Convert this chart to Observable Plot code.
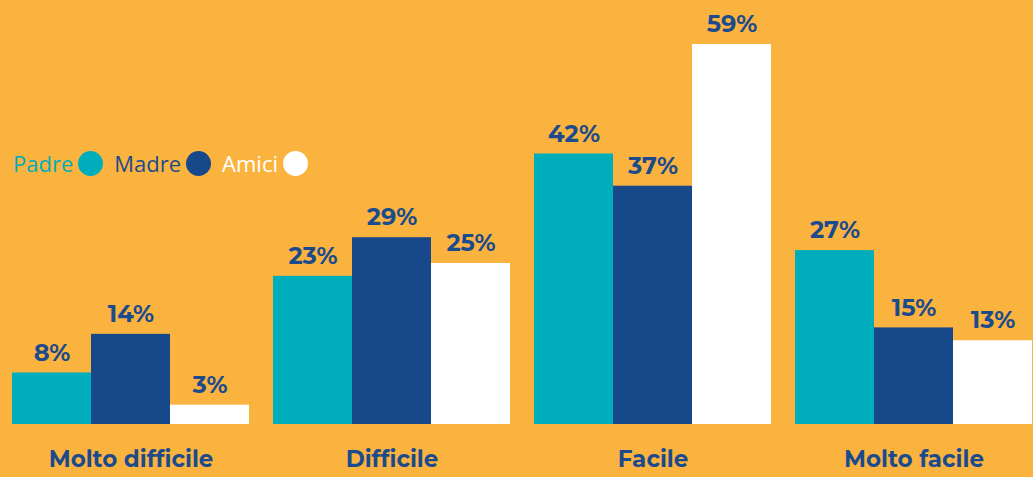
<!DOCTYPE html>
<html><head><meta charset="utf-8">
<script src="https://cdn.jsdelivr.net/npm/d3@7"></script>
<script src="https://cdn.jsdelivr.net/npm/@observablehq/plot@0.6"></script>
<style>
html,body{margin:0;padding:0;background:#FBB33F;}
#wrap{position:relative;width:1033px;height:477px;overflow:hidden;}
#legend{position:absolute;left:13px;top:148px;font-family:"Open Sans",sans-serif;font-size:22px;display:flex;align-items:center;}
#legend span.lab{margin-right:5px;}
#legend span.dot{display:inline-block;width:25px;height:25px;border-radius:50%;margin-right:11px;}
</style></head>
<body><div id="wrap"><div id="legend"></div></div>
<script>
const categories = ["Molto difficile", "Difficile", "Facile", "Molto facile"];
const series = ["Padre", "Madre", "Amici"];
const padre = [8, 23, 42, 27];
const madre = [14, 29, 37, 15];
const amici = [3, 25, 59, 13];
const colors = ["#00ADBB", "#17488A", "#FFFFFF"];
const labelColor = "#1B4B8C";

const data = [];
categories.forEach((c, i) => {
  data.push({cat: c, s: "Padre", v: padre[i]});
  data.push({cat: c, s: "Madre", v: madre[i]});
  data.push({cat: c, s: "Amici", v: amici[i]});
});

const font = "'Montserrat','Open Sans',sans-serif";
const chart = Plot.plot({
  width: 1033, height: 477,
  marginLeft: 11, marginRight: 1, marginTop: 44, marginBottom: 53,
  style: {background: "transparent", fontFamily: font},
  fx: {domain: categories, paddingInner: 0.093, paddingOuter: 0, label: null},
  x: {domain: series, padding: 0, axis: null},
  y: {domain: [0, 59], axis: null},
  color: {domain: series, range: colors},
  marks: [
    Plot.barY(data, {fx: "cat", x: "s", y: "v", fill: "s"}),
    Plot.text(data, {fx: "cat", x: "s", y: "v", text: d => d.v + "%", dy: -20, fill: labelColor, fontSize: 24, fontWeight: "bold"}),
    Plot.axisFx({anchor: "bottom", tickSize: 0, tickPadding: 26, fontSize: 23, fontWeight: "bold", fill: labelColor, label: null})
  ]
});
document.getElementById("wrap").appendChild(chart);

const legend = document.getElementById("legend");
series.forEach((s, i) => {
  const l = document.createElement("span");
  l.className = "lab"; l.textContent = s; l.style.color = i === 1 ? labelColor : colors[i];
  const d = document.createElement("span");
  d.className = "dot"; d.style.background = colors[i];
  legend.appendChild(l); legend.appendChild(d);
});
</script></body></html>
